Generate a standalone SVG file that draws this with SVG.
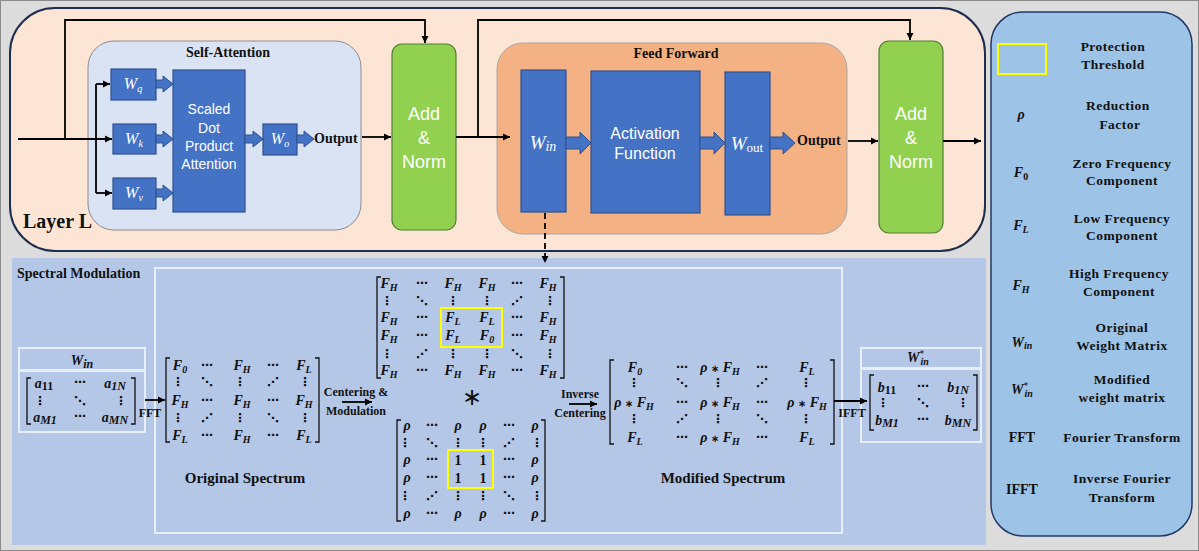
<svg xmlns="http://www.w3.org/2000/svg" width="1199" height="551" viewBox="0 0 1199 551">
<style>
.sb{font-family:"Liberation Serif",serif;font-weight:bold;fill:#111}
.wt{font-family:"Liberation Sans",sans-serif;fill:#fff;text-anchor:middle}
.wi{font-family:"Liberation Serif",serif;font-style:italic;fill:#fff;text-anchor:middle}
.mi{font-family:"Liberation Serif",serif;font-weight:bold;font-style:italic;font-size:14px;fill:#111;text-anchor:middle}
.mn{font-family:"Liberation Serif",serif;font-weight:bold;font-size:14px;fill:#111;text-anchor:middle}
.dt{font-family:"DejaVu Sans",sans-serif;font-weight:bold;font-size:12px;fill:#111;text-anchor:middle}
.s{font-size:10px}
.ast{font-family:"DejaVu Sans",sans-serif;font-style:normal;font-weight:bold;font-size:10px}
.blk{fill:#4472c4;stroke:#2f528f;stroke-width:1.2}
.fat{fill:#4472c4;stroke:#2f528f;stroke-width:1}
.grn{fill:#92d050;stroke:#507e32;stroke-width:1.2}
.cn{fill:none;stroke:#000;stroke-width:1.8}
.br{fill:none;stroke:#111;stroke-width:1.3}
.wb{fill:none;stroke:#e8eef8;stroke-width:2}
.lg{font-family:"Liberation Serif",serif;font-weight:bold;font-size:13.5px;fill:#111;text-anchor:middle;letter-spacing:0.5px}
.ctr{text-anchor:middle}
</style>
<defs>
<marker id="ah" markerWidth="8" markerHeight="8" refX="7" refY="4" orient="auto" markerUnits="userSpaceOnUse"><path d="M0,0.5 L7,4 L0,7.5 Z" fill="#000"/></marker>
</defs>
<rect x="0.5" y="0.5" width="1198" height="550" fill="#dcdcdc" stroke="#8a8a8a"/>

<g id="layer">
<rect x="10" y="8" width="975" height="243" rx="45" fill="#fde5d6" stroke="#1f2d4f" stroke-width="2"/>
<text x="23" y="228" class="sb" font-size="20">Layer L</text>
</g>

<g id="self-attention">
<rect x="88" y="41" width="273" height="189" rx="26" fill="#dae3f3" stroke="#8c8c8c" stroke-width="1"/>
<text x="228" y="57" class="sb ctr" font-size="14">Self-Attention</text>
</g>
<g id="wq"><rect x="111" y="69" width="45" height="31" class="blk"/><text x="133" y="89" class="wi" font-size="16">W<tspan class="s" dy="3">q</tspan></text></g>
<g id="wk"><rect x="113" y="124" width="43" height="30" class="blk"/><text x="134" y="144" class="wi" font-size="16">W<tspan class="s" dy="3">k</tspan></text></g>
<g id="wv"><rect x="113" y="178" width="43" height="31" class="blk"/><text x="134" y="198" class="wi" font-size="16">W<tspan class="s" dy="3">v</tspan></text></g>
<g id="sdpa"><rect x="173" y="70" width="72" height="142" class="blk"/>
<text class="wt" font-size="14"><tspan x="209" y="114">Scaled</tspan><tspan x="209" y="133">Dot</tspan><tspan x="209" y="151">Product</tspan><tspan x="209" y="169">Attention</tspan></text></g>
<g id="wo"><rect x="263" y="124" width="34" height="31" class="blk"/><text x="280" y="144" class="wi" font-size="16">W<tspan class="s" dy="3">o</tspan></text></g>
<g id="sa-output"><text x="314" y="143" class="sb" font-size="14">Output</text></g>

<g id="addnorm1"><rect x="392" y="44" width="64" height="186" rx="10" class="grn"/>
<text class="wt" font-size="18"><tspan x="424" y="120">Add</tspan><tspan x="424" y="144">&amp;</tspan><tspan x="424" y="168">Norm</tspan></text></g>

<g id="feed-forward">
<rect x="497" y="43" width="350" height="191" rx="26" fill="#f4b183" stroke="#a6a6a6" stroke-width="1"/>
<text x="676" y="58" class="sb ctr" font-size="14">Feed Forward</text>
</g>
<g id="win"><rect x="521" y="70" width="45" height="142" class="blk"/><text x="543" y="149" class="wi" font-size="19">W<tspan font-size="14" dy="2">in</tspan></text></g>
<g id="activation"><rect x="591" y="71" width="109" height="142" class="blk"/>
<text class="wt" font-size="16"><tspan x="645" y="139">Activation</tspan><tspan x="645" y="159">Function</tspan></text></g>
<g id="wout"><rect x="725" y="72" width="45" height="143" class="blk"/><text x="747" y="150" class="wi" font-size="19">W<tspan font-style="normal" font-size="13" dy="2">out</tspan></text></g>
<g id="ff-output"><text x="797" y="145" class="sb" font-size="14">Output</text></g>

<g id="addnorm2"><rect x="879" y="41" width="64" height="192" rx="10" class="grn"/>
<text class="wt" font-size="18"><tspan x="911" y="120">Add</tspan><tspan x="911" y="144">&amp;</tspan><tspan x="911" y="168">Norm</tspan></text></g>

<g id="fat-arrows">
<polygon class="fat" points="156,80 163,80 163,76 173,84 163,92 163,88 156,88"/>
<polygon class="fat" points="156,135 163,135 163,131 173,139 163,147 163,143 156,143"/>
<polygon class="fat" points="156,189 163,189 163,185 173,193 163,201 163,197 156,197"/>
<polygon class="fat" points="245,135 253,135 253,131 263,139 253,147 253,143 245,143"/>
<polygon class="fat" points="297,135 304,135 304,131 314,139 304,147 304,143 297,143"/>
<polygon class="fat" points="566,137 580,137 580,132 591,143 580,154 580,149 566,149"/>
<polygon class="fat" points="700,137 714,137 714,132 725,143 714,154 714,149 700,149"/>
<polygon class="fat" points="770,137 783,137 783,132 795,143 783,154 783,149 770,149"/>
</g>

<g id="spectral">
<rect x="12" y="258" width="974" height="287" fill="#b4c7e7"/>
<text x="17" y="278" class="sb" font-size="14">Spectral Modulation</text>
<rect x="155" y="268" width="687" height="265" class="wb"/>
</g>

<g id="win-matrix">
<rect x="19" y="348" width="126" height="22" class="wb"/>
<rect x="19" y="371" width="126" height="61" class="wb"/>
<text x="82" y="365" class="mi" font-size="16">W<tspan font-size="12" dy="3">in</tspan></text>
<path class="br" d="M31,378 H27 V424 H31 M131,378 H135 V424 H131"/>
<text x="44" y="388" class="mi" font-size="17">a<tspan font-size="12" font-style="normal" dy="2">11</tspan></text>
<text x="80" y="386" class="dt">⋯</text>
<text x="115" y="388" class="mi" font-size="17">a<tspan font-size="12" dy="2">1N</tspan></text>
<text x="40" y="405" class="dt">⋮</text><text x="80" y="405" class="dt">⋱</text><text x="121" y="405" class="dt">⋮</text>
<text x="45" y="422" class="mi" font-size="17">a<tspan font-size="12" dy="2">M1</tspan></text>
<text x="80" y="420" class="dt">⋯</text>
<text x="115" y="422" class="mi" font-size="17">a<tspan font-size="12" dy="2">MN</tspan></text>
</g>

<g id="original-spectrum">
<path class="br" d="M170,358 H166 V442 H170 M315,358 H319 V442 H315"/>
<text x="180" y="370" class="mi">F<tspan class="s" dy="3">0</tspan></text><text x="207" y="369" class="dt">⋯</text><text x="242" y="370" class="mi">F<tspan class="s" dy="3">H</tspan></text><text x="273" y="369" class="dt">⋯</text><text x="304" y="370" class="mi">F<tspan class="s" dy="3">L</tspan></text>
<text x="178" y="386" class="dt">⋮</text><text x="207" y="386" class="dt">⋱</text><text x="240" y="386" class="dt">⋮</text><text x="273" y="386" class="dt">⋰</text><text x="305" y="386" class="dt">⋮</text>
<text x="180" y="405" class="mi">F<tspan class="s" dy="3">H</tspan></text><text x="207" y="404" class="dt">⋯</text><text x="242" y="405" class="mi">F<tspan class="s" dy="3">H</tspan></text><text x="273" y="404" class="dt">⋯</text><text x="304" y="405" class="mi">F<tspan class="s" dy="3">H</tspan></text>
<text x="178" y="422" class="dt">⋮</text><text x="207" y="422" class="dt">⋰</text><text x="240" y="422" class="dt">⋮</text><text x="273" y="422" class="dt">⋱</text><text x="305" y="422" class="dt">⋮</text>
<text x="180" y="440" class="mi">F<tspan class="s" dy="3">L</tspan></text><text x="207" y="439" class="dt">⋯</text><text x="242" y="440" class="mi">F<tspan class="s" dy="3">H</tspan></text><text x="273" y="439" class="dt">⋯</text><text x="304" y="440" class="mi">F<tspan class="s" dy="3">L</tspan></text>
<text x="245" y="483" class="sb ctr" font-size="15">Original Spectrum</text>
</g>

<g id="centered-spectrum">
<path class="br" d="M381,277 H377 V378 H381 M560,277 H564 V378 H560"/>
<rect x="441" y="308" width="61" height="39" fill="none" stroke="#ffff00" stroke-width="2"/>
<text x="389" y="288" class="mi">F<tspan class="s" dy="3">H</tspan></text><text x="422" y="287" class="dt">⋯</text><text x="453" y="288" class="mi">F<tspan class="s" dy="3">H</tspan></text><text x="487" y="288" class="mi">F<tspan class="s" dy="3">H</tspan></text><text x="517" y="287" class="dt">⋯</text><text x="548" y="288" class="mi">F<tspan class="s" dy="3">H</tspan></text>
<text x="387" y="305" class="dt">⋮</text><text x="422" y="305" class="dt">⋱</text><text x="453" y="305" class="dt">⋮</text><text x="487" y="305" class="dt">⋮</text><text x="517" y="305" class="dt">⋰</text><text x="550" y="305" class="dt">⋮</text>
<text x="389" y="322" class="mi">F<tspan class="s" dy="3">H</tspan></text><text x="422" y="321" class="dt">⋯</text><text x="453" y="322" class="mi">F<tspan class="s" dy="3">L</tspan></text><text x="487" y="322" class="mi">F<tspan class="s" dy="3">L</tspan></text><text x="517" y="321" class="dt">⋯</text><text x="548" y="322" class="mi">F<tspan class="s" dy="3">H</tspan></text>
<text x="389" y="340" class="mi">F<tspan class="s" dy="3">H</tspan></text><text x="422" y="339" class="dt">⋯</text><text x="453" y="340" class="mi">F<tspan class="s" dy="3">L</tspan></text><text x="487" y="340" class="mi">F<tspan class="s" dy="3">0</tspan></text><text x="517" y="339" class="dt">⋯</text><text x="548" y="340" class="mi">F<tspan class="s" dy="3">H</tspan></text>
<text x="387" y="358" class="dt">⋮</text><text x="422" y="358" class="dt">⋰</text><text x="453" y="358" class="dt">⋮</text><text x="487" y="358" class="dt">⋮</text><text x="517" y="358" class="dt">⋱</text><text x="550" y="358" class="dt">⋮</text>
<text x="389" y="375" class="mi">F<tspan class="s" dy="3">H</tspan></text><text x="422" y="374" class="dt">⋯</text><text x="453" y="375" class="mi">F<tspan class="s" dy="3">H</tspan></text><text x="487" y="375" class="mi">F<tspan class="s" dy="3">H</tspan></text><text x="517" y="374" class="dt">⋯</text><text x="548" y="375" class="mi">F<tspan class="s" dy="3">H</tspan></text>
</g>

<g id="multiply"><text x="472" y="405" font-family="DejaVu Sans,sans-serif" font-size="24" text-anchor="middle" fill="#111">∗</text></g>

<g id="rho-mask">
<path class="br" d="M401,420 H397 V521 H401 M541,420 H545 V521 H541"/>
<rect x="448" y="450" width="45" height="38" fill="none" stroke="#ffff00" stroke-width="2"/>
<text x="407" y="430" class="mi">ρ</text><text x="432" y="429" class="dt">⋯</text><text x="458" y="430" class="mi">ρ</text><text x="483" y="430" class="mi">ρ</text><text x="509" y="429" class="dt">⋯</text><text x="535" y="430" class="mi">ρ</text>
<text x="405" y="447" class="dt">⋮</text><text x="432" y="447" class="dt">⋱</text><text x="458" y="447" class="dt">⋮</text><text x="483" y="447" class="dt">⋮</text><text x="509" y="447" class="dt">⋰</text><text x="537" y="447" class="dt">⋮</text>
<text x="407" y="464" class="mi">ρ</text><text x="432" y="463" class="dt">⋯</text><text x="458" y="465" class="mn" font-size="15">1</text><text x="483" y="465" class="mn" font-size="15">1</text><text x="509" y="463" class="dt">⋯</text><text x="535" y="464" class="mi">ρ</text>
<text x="407" y="482" class="mi">ρ</text><text x="432" y="481" class="dt">⋯</text><text x="458" y="483" class="mn" font-size="15">1</text><text x="483" y="483" class="mn" font-size="15">1</text><text x="509" y="481" class="dt">⋯</text><text x="535" y="482" class="mi">ρ</text>
<text x="405" y="500" class="dt">⋮</text><text x="432" y="500" class="dt">⋰</text><text x="458" y="500" class="dt">⋮</text><text x="483" y="500" class="dt">⋮</text><text x="509" y="500" class="dt">⋱</text><text x="537" y="500" class="dt">⋮</text>
<text x="407" y="518" class="mi">ρ</text><text x="432" y="517" class="dt">⋯</text><text x="458" y="518" class="mi">ρ</text><text x="483" y="518" class="mi">ρ</text><text x="509" y="517" class="dt">⋯</text><text x="535" y="518" class="mi">ρ</text>
</g>

<g id="modified-spectrum">
<path class="br" d="M614,360 H610 V444 H614 M830,360 H834 V444 H830"/>
<text x="635" y="372" class="mi">F<tspan class="s" dy="3">0</tspan></text><text x="682" y="371" class="dt">⋯</text><text x="720" y="372" class="mi">ρ <tspan class="ast">∗</tspan> F<tspan class="s" dy="3">H</tspan></text><text x="762" y="371" class="dt">⋯</text><text x="807" y="372" class="mi">F<tspan class="s" dy="3">L</tspan></text>
<text x="634" y="387" class="dt">⋮</text><text x="682" y="387" class="dt">⋱</text><text x="718" y="387" class="dt">⋮</text><text x="762" y="387" class="dt">⋰</text><text x="806" y="387" class="dt">⋮</text>
<text x="634" y="407" class="mi">ρ <tspan class="ast">∗</tspan> F<tspan class="s" dy="3">H</tspan></text><text x="682" y="406" class="dt">⋯</text><text x="720" y="407" class="mi">ρ <tspan class="ast">∗</tspan> F<tspan class="s" dy="3">H</tspan></text><text x="762" y="406" class="dt">⋯</text><text x="807" y="407" class="mi">ρ <tspan class="ast">∗</tspan> F<tspan class="s" dy="3">H</tspan></text>
<text x="634" y="423" class="dt">⋮</text><text x="682" y="423" class="dt">⋰</text><text x="718" y="423" class="dt">⋮</text><text x="762" y="423" class="dt">⋱</text><text x="806" y="423" class="dt">⋮</text>
<text x="635" y="442" class="mi">F<tspan class="s" dy="3">L</tspan></text><text x="682" y="441" class="dt">⋯</text><text x="720" y="442" class="mi">ρ <tspan class="ast">∗</tspan> F<tspan class="s" dy="3">H</tspan></text><text x="762" y="441" class="dt">⋯</text><text x="807" y="442" class="mi">F<tspan class="s" dy="3">L</tspan></text>
<text x="723" y="483" class="sb ctr" font-size="15">Modified Spectrum</text>
</g>

<g id="win-star-matrix">
<rect x="861" y="348" width="120" height="20" class="wb"/>
<rect x="861" y="369" width="120" height="73" class="wb"/>
<text x="918" y="362" class="mi" font-size="15">W<tspan font-size="8" dy="-6">*</tspan><tspan class="s" dx="-3" dy="9">in</tspan></text>
<path class="br" d="M874,375 H870 V430 H874 M973,375 H977 V430 H973"/>
<text x="887" y="392" class="mi" font-size="17">b<tspan font-size="12" font-style="normal" dy="2">11</tspan></text>
<text x="923" y="390" class="dt">⋯</text>
<text x="958" y="392" class="mi" font-size="17">b<tspan font-size="12" dy="2">1N</tspan></text>
<text x="883" y="407" class="dt">⋮</text><text x="923" y="407" class="dt">⋱</text><text x="963" y="407" class="dt">⋮</text>
<text x="887" y="425" class="mi" font-size="17">b<tspan font-size="12" dy="2">M1</tspan></text>
<text x="923" y="423" class="dt">⋯</text>
<text x="958" y="425" class="mi" font-size="17">b<tspan font-size="12" dy="2">MN</tspan></text>
</g>

<g id="step-labels">
<text x="150" y="417" class="sb ctr" font-size="12">FFT</text>
<text x="356" y="396" class="sb ctr" font-size="12">Centering &amp;</text>
<text x="356" y="415" class="sb ctr" font-size="12">Modulation</text>
<text x="580" y="398" class="sb ctr" font-size="12">Inverse</text>
<text x="580" y="417" class="sb ctr" font-size="12">Centering</text>
<text x="852" y="417" class="sb ctr" font-size="12">IFFT</text>
</g>

<g id="connectors">
<path class="cn" d="M18,139 H112" marker-end="url(#ah)"/>
<path class="cn" d="M96,84 V193"/>
<path class="cn" d="M96,84 H110" marker-end="url(#ah)"/>
<path class="cn" d="M96,193 H112" marker-end="url(#ah)"/>
<path class="cn" d="M65,139 V20 H425 V43" marker-end="url(#ah)"/>
<path class="cn" d="M362,137 H391" marker-end="url(#ah)"/>
<path class="cn" d="M456,137 H510" marker-end="url(#ah)"/>
<path class="cn" d="M478,137 V20 H910 V40" marker-end="url(#ah)"/>
<path class="cn" d="M848,141 H878" marker-end="url(#ah)"/>
<path class="cn" d="M943,141 H981" marker-end="url(#ah)"/>
<path class="cn" d="M545,213 V263" stroke-dasharray="6,4" marker-end="url(#ah)"/>
<path class="cn" d="M145,400 H165" marker-end="url(#ah)"/>
<path class="cn" d="M342,402 H372" marker-end="url(#ah)"/>
<path class="cn" d="M569,404 H597" marker-end="url(#ah)"/>
<path class="cn" d="M834,401 H867" marker-end="url(#ah)"/>
</g>

<g id="legend">
<rect x="991" y="12" width="201" height="524" rx="32" fill="#9dc3e6" stroke="#203864" stroke-width="1.5"/>
<rect x="998" y="44" width="48" height="30" fill="none" stroke="#ffff00" stroke-width="2"/>
<text class="lg"><tspan x="1113" y="51">Protection</tspan><tspan x="1113" y="69">Threshold</tspan></text>
<text x="1021" y="119" class="mi" font-size="15">ρ</text>
<text class="lg"><tspan x="1118" y="110">Reduction</tspan><tspan x="1120" y="129">Factor</tspan></text>
<text x="1021" y="177" class="mi" font-size="15">F<tspan class="s" font-style="normal" dy="3">0</tspan></text>
<text class="lg"><tspan x="1122" y="168">Zero Frequency</tspan><tspan x="1122" y="185">Component</tspan></text>
<text x="1021" y="230" class="mi" font-size="15">F<tspan class="s" dy="3">L</tspan></text>
<text class="lg"><tspan x="1122" y="223">Low Frequency</tspan><tspan x="1122" y="240">Component</tspan></text>
<text x="1021" y="290" class="mi" font-size="15">F<tspan class="s" dy="3">H</tspan></text>
<text class="lg"><tspan x="1119" y="278">High Frequency</tspan><tspan x="1119" y="296">Component</tspan></text>
<text x="1022" y="347" class="mi" font-size="15">W<tspan class="s" dy="2">in</tspan></text>
<text class="lg"><tspan x="1122" y="332">Original</tspan><tspan x="1122" y="350">Weight Matrix</tspan></text>
<text x="1022" y="394" class="mi" font-size="15">W<tspan font-size="8" dy="-6">*</tspan><tspan class="s" dx="-3" dy="9">in</tspan></text>
<text class="lg"><tspan x="1122" y="384">Modified</tspan><tspan x="1122" y="402">weight matrix</tspan></text>
<text x="1022" y="442" class="mn">FFT</text>
<text class="lg"><tspan x="1122" y="442">Fourier Transform</tspan></text>
<text x="1022" y="494" class="mn">IFFT</text>
<text class="lg"><tspan x="1122" y="483">Inverse Fourier</tspan><tspan x="1122" y="502">Transform</tspan></text>
</g>
</svg>
